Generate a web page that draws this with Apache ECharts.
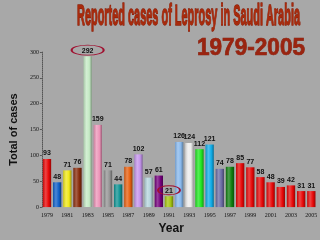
<!DOCTYPE html>
<html><head><meta charset="utf-8">
<script src="https://cdn.jsdelivr.net/npm/echarts@6/dist/echarts.min.js"></script>
<style>html,body{margin:0;padding:0;background:#a8a8a8;}#c{width:320px;height:240px;}</style>
</head><body><div id="c"></div>
<script>
var years = ['1979','1980','1981','1982','1983','1984','1985','1986','1987','1988','1989','1990','1991','1992','1993','1994','1995','1996','1997','1998','1999','2000','2001','2002','2003','2004','2005'];
var cases = [93,48,71,76,292,159,71,44,78,102,57,61,21,126,124,112,121,74,78,85,77,58,48,39,42,31,31];
var barColors = ['#e80808','#1060c8','#f0e818','#8a2c0c','#c4eac4','#ec94b8','#949494','#109494','#e86010','#c494ec','#b4d4dc','#74007c','#a4c410','#88b8ec','#ececec','#20e820','#10ace8','#6c6ca4','#108010','#e80808','#e80808','#e80808','#e80808','#e80808','#e80808','#e80808','#e80808'];
var circled = ['1983','1991'];

function shade(hex, f){
  var n = parseInt(hex.slice(1),16), r=(n>>16)&255, g=(n>>8)&255, b=n&255;
  function c(v){ v = f>0 ? v+(255-v)*f : v*(1+f); return Math.max(0,Math.min(255,Math.round(v))); }
  return 'rgb('+c(r)+','+c(g)+','+c(b)+')';
}
function measure(text, font){
  var cv=document.createElement('canvas').getContext('2d'); cv.font=font; return cv.measureText(text).width;
}
var chart = echarts.init(document.getElementById('c'));
var data = cases.map(function(v,i){
  var col = barColors[i];
  return {value:v, itemStyle:{color:new echarts.graphic.LinearGradient(0,0,1,0,[
    {offset:0,color:shade(col,-0.15)},{offset:0.35,color:shade(col,0.25)},{offset:0.7,color:col},{offset:1,color:shade(col,-0.35)}])}};
});
var titleText='Reported cases of Leprosy in Saudi Arabia';
var tFont='bold 20px "Liberation Sans Narrow", "Liberation Sans", sans-serif';
var tW=measure(titleText,tFont);
var subText='1979-2005';
var sFont='bold 20px "Liberation Sans", Arial, sans-serif';
var sW=measure(subText,sFont);
var markData = circled.map(function(y){ var i=years.indexOf(y); return {coord:[y,cases[i]]}; });
chart.setOption({
  backgroundColor:'#a8a8a8',
  animation:false,
  grid:{left:26,right:2,top:52,bottom:30},
  xAxis:{type:'category',data:years,
    axisLine:{show:false},axisTick:{show:false},
    axisLabel:{interval:1,fontSize:6,fontFamily:'Liberation Serif',color:'#111',margin:5},
    name:'Year',nameLocation:'middle',nameGap:15,
    nameTextStyle:{fontSize:12,fontWeight:'bold',color:'#111',fontFamily:'Liberation Sans',padding:[0,16,0,0]}},
  yAxis:{type:'value',min:0,max:300,interval:50,
    axisLine:{show:true,lineStyle:{color:'#555',type:'dotted',width:1}},
    axisTick:{show:true,length:2,lineStyle:{color:'#555'}},
    splitLine:{show:false},
    axisLabel:{fontSize:6,fontFamily:'Liberation Serif',color:'#111',margin:3},
    name:'Total of cases',nameLocation:'middle',nameGap:16,nameRotate:90,
    nameTextStyle:{fontSize:11,fontWeight:'bold',color:'#111',fontFamily:'Liberation Sans'}},
  series:[{type:'bar',data:data,barCategoryGap:'18%',
    label:{show:true,position:'top',distance:2,fontSize:7,fontWeight:'bold',color:'#111',fontFamily:'Liberation Sans'},
    markPoint:{symbol:'circle',symbolSize:function(v,p){return p.data.coord[0]==='1983'?[32,10]:[22,9];},
      symbolOffset:[0,-6],silent:true,label:{show:false},
      itemStyle:{color:'rgba(0,0,0,0)',borderColor:'#a01030',borderWidth:1.2},
      data:markData}
  }],
  graphic:[
    {type:'text',x:77,y:2,scaleX:223/tW,scaleY:1.5,
      style:{text:titleText,font:tFont,textVerticalAlign:'top',fill:'#a82a0c',stroke:'#8a200a',lineWidth:0.9}},
    {type:'text',x:197,y:37,scaleX:108/sW,scaleY:1.15,
      style:{text:subText,font:sFont,textVerticalAlign:'top',fill:'#9a2410',stroke:'#801c0a',lineWidth:0.6}}
  ]
});
</script></body></html>
